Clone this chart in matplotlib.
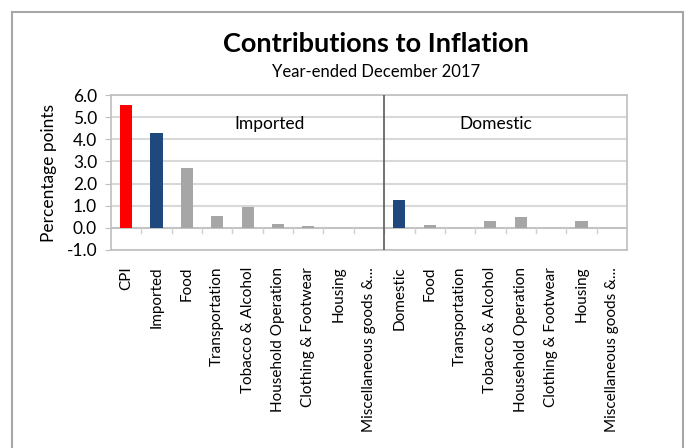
import matplotlib.pyplot as plt
from matplotlib.patches import Rectangle

plt.rcParams['font.family'] = ['Lato', 'DejaVu Sans']

categories = ['CPI', 'Imported', 'Food', 'Transportation', 'Tobacco & Alcohol',
              'Household Operation', 'Clothing & Footwear', 'Housing',
              'Miscellaneous goods &...',
              'Domestic', 'Food', 'Transportation', 'Tobacco & Alcohol',
              'Household Operation', 'Clothing & Footwear', 'Housing',
              'Miscellaneous goods &...']
values = [5.56, 4.28, 2.70, 0.54, 0.95, 0.17, 0.07, -0.02, 0.0,
          1.28, 0.14, -0.02, 0.33, 0.50, 0.0, 0.29, 0.0]
groups = ['total', 'group', 'item', 'item', 'item', 'item', 'item', 'item', 'item',
          'group', 'item', 'item', 'item', 'item', 'item', 'item', 'item']
group_colors = {'total': '#FF0000', 'group': '#1F497D', 'item': '#A6A6A6'}

fig = plt.figure(figsize=(6.89, 4.48), dpi=100)
# outer chart frame
fig.patches.append(Rectangle((12 / 689, -0.05), (683 - 12) / 689, 1.05 - 12 / 448,
                             transform=fig.transFigure, fill=False,
                             edgecolor='#A6A6A6', linewidth=1.5))

ax = fig.add_axes([111 / 689, 1 - 250 / 448, (627 - 111) / 689, (250 - 95) / 448])

x = list(range(len(categories)))
ax.bar(x, values, width=0.4, color=[group_colors[g] for g in groups], zorder=3)

ax.set_xlim(-0.5, len(categories) - 0.5)
ax.set_ylim(-1.0, 6.0)
ax.set_yticks([-1, 0, 1, 2, 3, 4, 5, 6])
ax.set_yticklabels([f'{v:.1f}' for v in range(-1, 7)], fontsize=12.5)
ax.grid(axis='y', color='#D9D9D9', linewidth=1.5, zorder=0)
for s in ax.spines.values():
    s.set_color('#BFBFBF')
    s.set_linewidth(1.2)
ax.tick_params(axis='y', length=4, color='#BFBFBF', pad=6)

# zero axis with boundary ticks
ax.axhline(0, color='#BFBFBF', linewidth=1.2, zorder=2)
for b in range(1, len(categories)):
    ax.plot([b - 0.5, b - 0.5], [0, -0.22], color='#D0D0D0', linewidth=1, zorder=2)

ax.set_xticks(x)
ax.set_xticklabels(categories, rotation=90, fontsize=11, va='top', ha='center')
ax.tick_params(axis='x', length=0, pad=12)

# divider between imported and domestic
ax.axvline(8.5, color='#595959', linewidth=1.2, zorder=4)

ax.text(0.308, 0.81, 'Imported', transform=ax.transAxes, fontsize=12.5,
        ha='center', va='center')
ax.text(0.746, 0.81, 'Domestic', transform=ax.transAxes, fontsize=12.5,
        ha='center', va='center')

ax.set_ylabel('Percentage points', fontsize=12.5, labelpad=7)

fig.text(376 / 689, 1 - 44 / 448, 'Contributions to Inflation', fontsize=19.5,
         fontweight='bold', ha='center', va='center')
fig.text(376 / 689, 1 - 72 / 448, 'Year-ended December 2017', fontsize=12,
         ha='center', va='center')

fig.savefig('out.png', dpi=100)
